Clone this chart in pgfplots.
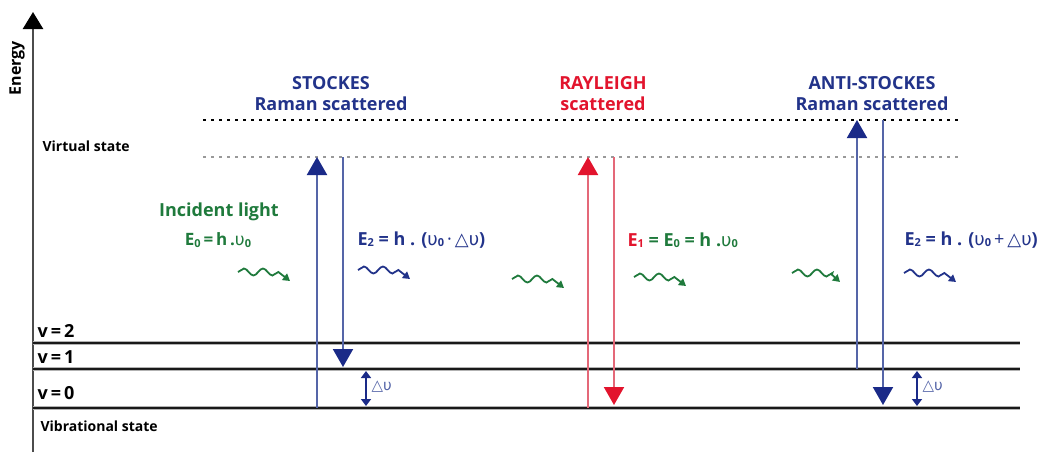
\documentclass[border=0pt]{standalone}
\usepackage{fontspec}
\setmainfont{Open Sans}
\newfontfamily\dv{DejaVu Sans}
\usepackage{pgfplots}
\pgfplotsset{compat=1.18}
\usetikzlibrary{arrows.meta,decorations.pathmorphing}
\definecolor{navy}{HTML}{22338A}
\definecolor{navyhead}{HTML}{1A2A88}
\definecolor{bline}{HTML}{5565A8}
\definecolor{rtext}{HTML}{E2142D}
\definecolor{rline}{HTML}{E46878}
\definecolor{gtext}{HTML}{1F7A3C}
\newcommand{\up}{{\dv\fontseries{m}\selectfont υ}}
\newcommand{\tri}{{\dv\fontseries{m}\selectfont △}}
\newcommand{\sub}[1]{\raisebox{-1.5pt}{\fontsize{11}{11}\selectfont #1}}
\begin{document}
\begin{tikzpicture}
\begin{axis}[hide axis, scale only axis, width=1045pt, height=452pt,
  xmin=0, xmax=1045, ymin=0, ymax=452, y dir=reverse, clip=false]
\addplot[draw=none] coordinates {(0,0) (1045,452)};
% energy axis
\addplot[line width=2.5pt, color=black!70, -{Triangle[width=20pt,length=17pt,color=black]}] coordinates {(33,452) (33,12)};
\node[rotate=90, font=\bfseries\fontsize{16}{16}\selectfont] at (axis cs:17,68) {Energy};
% virtual states
\addplot[line width=1.6pt, color=black, dash pattern=on 3pt off 5pt] coordinates {(203,120) (960,120)};
\addplot[line width=1.4pt, color=black!40, dash pattern=on 3pt off 5pt] coordinates {(203,157) (960,157)};
\node[anchor=west, font=\bfseries\fontsize{14}{14}\selectfont] at (axis cs:39,146) {Virtual state};
% vibrational levels
\addplot[line width=4.5pt, color=black!30] coordinates {(33,343) (1020,343)};
\addplot[line width=2.2pt, color=black!90] coordinates {(33,343) (1020,343)};
\addplot[line width=4pt, color=black!30] coordinates {(33,369) (1020,369)};
\addplot[line width=1.2pt, color=black!90] coordinates {(33,369) (1020,369)};
\addplot[line width=4.5pt, color=black!30] coordinates {(33,408) (1020,408)};
\addplot[line width=2.2pt, color=black!90] coordinates {(33,408) (1020,408)};
\node[anchor=west, font=\bfseries\fontsize{18}{18}\selectfont] at (axis cs:34,331) {v\,=\,2};
\node[anchor=west, font=\bfseries\fontsize{18}{18}\selectfont] at (axis cs:34,357) {v\,=\,1};
\node[anchor=west, font=\bfseries\fontsize{18}{18}\selectfont] at (axis cs:34,393) {v\,=\,0};
\node[anchor=west, font=\bfseries\fontsize{14}{14}\selectfont] at (axis cs:37,426) {Vibrational state};
% Stokes
\addplot[line width=2pt, color=bline, -{Triangle[width=20pt,length=18pt,color=navyhead]}] coordinates {(317,408) (317,157)};
\addplot[line width=2pt, color=bline, -{Triangle[width=20pt,length=18pt,color=navyhead]}] coordinates {(343,157) (343,367)};
\addplot[line width=1.6pt, color=navyhead, {Triangle[width=10pt,length=7pt]}-{Triangle[width=10pt,length=7pt]}] coordinates {(366,371) (366,406)};
\node[anchor=west, text=bline, font=\fontsize{15}{15}\selectfont] at (axis cs:368,387) {\tri\up};
% Rayleigh
\addplot[line width=2pt, color=rline, -{Triangle[width=20pt,length=18pt,color=rtext]}] coordinates {(588,408) (588,157)};
\addplot[line width=2pt, color=rline, -{Triangle[width=20pt,length=18pt,color=rtext]}] coordinates {(614,157) (614,405)};
% Anti-Stokes
\addplot[line width=2pt, color=bline, -{Triangle[width=20pt,length=18pt,color=navyhead]}] coordinates {(857,369) (857,120)};
\addplot[line width=2pt, color=bline, -{Triangle[width=20pt,length=18pt,color=navyhead]}] coordinates {(883,120) (883,405)};
\addplot[line width=1.6pt, color=navyhead, {Triangle[width=10pt,length=7pt]}-{Triangle[width=10pt,length=7pt]}] coordinates {(917,371) (917,406)};
\node[anchor=west, text=bline, font=\fontsize{15}{15}\selectfont] at (axis cs:919,387) {\tri\up};
% titles
\node[text=navy, font=\bfseries\fontsize{18}{18}\selectfont, align=center] at (axis cs:331,94) {STOCKES\\[3pt]Raman scattered};
\node[text=rtext, font=\bfseries\fontsize{18}{18}\selectfont, align=center] at (axis cs:603,94) {RAYLEIGH\\[3pt]scattered};
\node[text=navy, font=\bfseries\fontsize{18}{18}\selectfont, align=center] at (axis cs:872,94) {ANTI-STOCKES\\[3pt]Raman scattered};
% formulas
\node[text=gtext, font=\bfseries\fontsize{18}{18}\selectfont] at (axis cs:219,212) {Incident light};
\node[text=gtext, font=\bfseries\fontsize{17}{17}\selectfont] at (axis cs:218,240) {E\sub{0}\,=\,h\,.\up\sub{0}};
\node[anchor=west, text=navy, font=\bfseries\fontsize{18}{18}\selectfont] at (axis cs:354,240) {E\sub{2} = h . (\up\sub{0}{\mdseries\,·\,}\tri\up)};
\node[anchor=west, font=\bfseries\fontsize{18}{18}\selectfont] at (axis cs:624,240) {\textcolor{rtext}{E\sub{1}} \textcolor{gtext}{= E\sub{0} = h .\up\sub{0}}};
\node[anchor=west, text=navy, font=\bfseries\fontsize{18}{18}\selectfont] at (axis cs:901,240) {E\sub{2} = h . (\up\sub{0}{\mdseries\,+\,}\tri\up)};
% wavy photons
\pgfplotsset{wave/.style={line width=1.8pt, decorate, decoration={snake, amplitude=3.5pt, segment length=19pt, post length=8pt}, -{Triangle[width=8pt,length=7pt]}}}
\addplot[wave, color=gtext] coordinates {(238,272) (280,272) (290,281)};
\addplot[wave, color=navy] coordinates {(358,270) (400,270) (410,279)};
\addplot[wave, color=gtext] coordinates {(512,279) (554,279) (564,288)};
\addplot[wave, color=gtext] coordinates {(634,277) (676,277) (686,286)};
\addplot[wave, color=gtext] coordinates {(792,273) (830,273) (840,282)};
\addplot[wave, color=navy] coordinates {(904,273) (946,273) (956,282)};
\end{axis}
\end{tikzpicture}
\end{document}
